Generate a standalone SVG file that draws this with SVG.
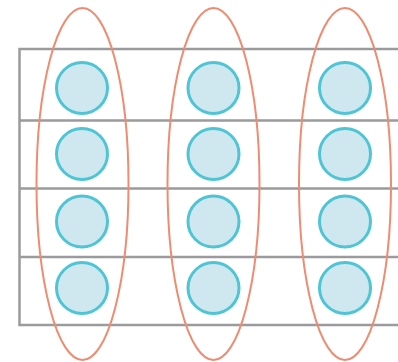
<svg xmlns="http://www.w3.org/2000/svg" width="398" height="362" viewBox="0 0 398 362">
<style>
.grid{fill:none;stroke:#9b9b9d;stroke-width:2.5}
.dot{fill:#cfe8ef;stroke:#4ec5d4;stroke-width:3}
.group{fill:none;stroke:#ee8c72;stroke-width:2}
</style>
<rect width="398" height="362" fill="#ffffff"/>
<g id="grid">
<path class="grid" d="M400,49 H19.5 V325 H400 M19.5,120.5 H400 M19.5,188.5 H400 M19.5,257 H400"/>
</g>
<g id="col1">
<circle class="dot" cx="82" cy="88" r="25.5"/>
<circle class="dot" cx="82" cy="154" r="25.5"/>
<circle class="dot" cx="82" cy="221.5" r="25.5"/>
<circle class="dot" cx="82" cy="288" r="25.5"/>
</g>
<g id="col2">
<circle class="dot" cx="213.5" cy="88" r="25.5"/>
<circle class="dot" cx="213.5" cy="154" r="25.5"/>
<circle class="dot" cx="213.5" cy="221.5" r="25.5"/>
<circle class="dot" cx="213.5" cy="288" r="25.5"/>
</g>
<g id="col3">
<circle class="dot" cx="345" cy="88" r="25.5"/>
<circle class="dot" cx="345" cy="154" r="25.5"/>
<circle class="dot" cx="345" cy="221.5" r="25.5"/>
<circle class="dot" cx="345" cy="288" r="25.5"/>
</g>
<g id="groups">
<ellipse id="group1" class="group" cx="82.5" cy="184" rx="46" ry="176"/>
<ellipse id="group2" class="group" cx="213.5" cy="184" rx="46" ry="176"/>
<ellipse id="group3" class="group" cx="345" cy="184" rx="46" ry="176"/>
</g>
</svg>
